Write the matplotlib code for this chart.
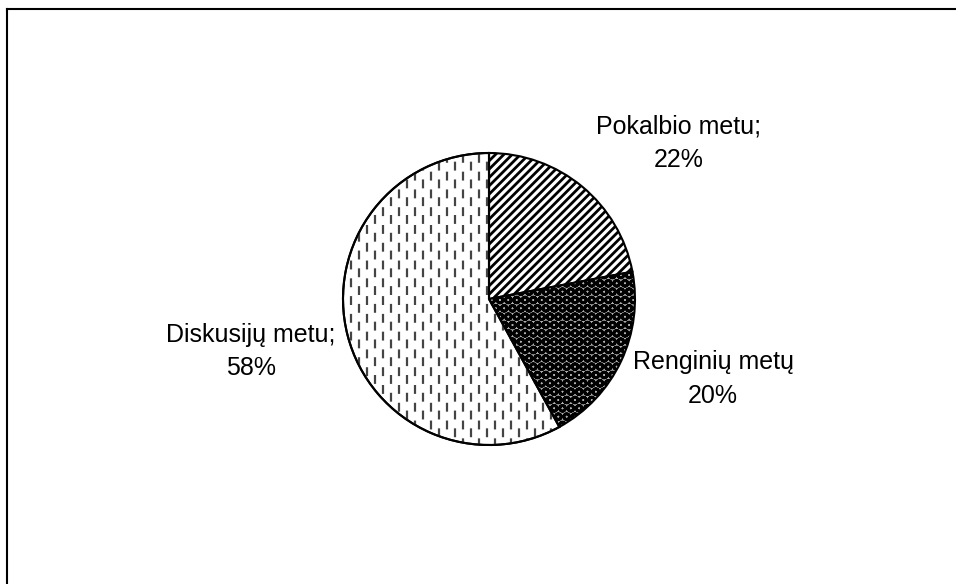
import numpy as np
import matplotlib
matplotlib.use("Agg")
import matplotlib.pyplot as plt
from matplotlib.patches import Wedge

categories = ["Pokalbio metu;", "Renginių metų", "Diskusijų metu;"]
shares = [22, 20, 58]

plt.rcParams["font.family"] = ["Liberation Sans", "DejaVu Sans"]
plt.rcParams["hatch.linewidth"] = 2.0

W, H = 956, 584
fig = plt.figure(figsize=(W / 100, H / 100), dpi=100)
ax = fig.add_axes([0, 0, 1, 1])

cx, cy, r = 489, H - 299, 146
wedges, _ = ax.pie(shares, startangle=90, counterclock=False,
                   center=(cx, cy), radius=r, frame=True,
                   colors=["white"] * 3,
                   wedgeprops=dict(edgecolor="black", linewidth=1.5))
ax.set_xlim(0, W)
ax.set_ylim(0, H)
ax.axis("off")
ax.set_aspect("equal")

wedges[0].set_hatch("////")
wedges[1].set_hatch("OO")
wedges[1].set_facecolor("#b0b0b0")

# dashed vertical pattern for the big slice
xs = np.arange(cx - r, cx + r, 8)
for i, x in enumerate(xs):
    ln, = ax.plot([x, x], [cy - r - 10, cy + r + 10], color="#444444", lw=1.6,
                  linestyle=(4.5 * (i % 2), (4, 4)), zorder=1.5)
    ln.set_clip_path(wedges[2])

wedges[2].set_zorder(1)
edge = Wedge((cx, cy), r, wedges[2].theta1, wedges[2].theta2,
             facecolor="none", edgecolor="black", lw=1.5, zorder=3)
ax.add_patch(edge)

fs = 18
ax.text(679, H - 143.5, f"{categories[0]}\n{shares[0]}%", ha="center", va="center",
        fontsize=fs, linespacing=1.5)
ax.text(713, H - 379, f"{categories[1]}\n{shares[1]}%", ha="center", va="center",
        fontsize=fs, linespacing=1.5)
ax.text(251, H - 351.5, f"{categories[2]}\n{shares[2]}%", ha="center", va="center",
        fontsize=fs, linespacing=1.5)

ax.plot([7, 7], [0, H - 8.5], color="black", lw=1.5, clip_on=False)
ax.plot([7, W], [H - 8.5, H - 8.5], color="black", lw=1.5, clip_on=False)

fig.savefig("out.png", dpi=100)
